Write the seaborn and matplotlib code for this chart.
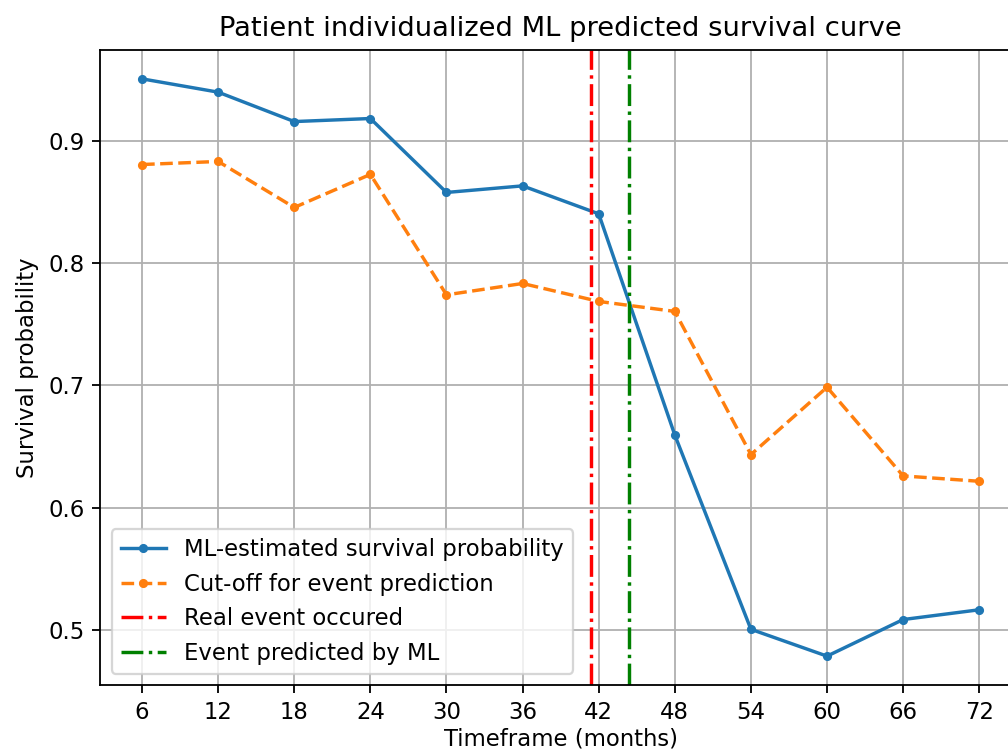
import pandas as pd
import matplotlib
matplotlib.use("Agg")
import matplotlib.pyplot as plt
import seaborn as sns


DPI = 164

# Months at which survival is evaluated
months = [6, 12, 18, 24, 30, 36, 42, 48, 54, 60, 66, 72]

# ML-estimated survival probability
surv_prob = [0.9513, 0.9404, 0.9163, 0.9188, 0.8582, 0.8636,
             0.8407, 0.6594, 0.5002, 0.4782, 0.5082, 0.5162]

# Cut-off for event prediction
cutoff = [0.8811, 0.8836, 0.8459, 0.8730, 0.7743, 0.7836,
          0.7689, 0.7607, 0.6434, 0.6986, 0.6259, 0.6215]

real_event_month = 41.4
predicted_event_month = 44.4

labels = ["ML-estimated survival probability", "Cut-off for event prediction",
          "Real event occured", "Event predicted by ML"]


def main() -> None:
    df = pd.DataFrame({"month": months, "surv": surv_prob, "cutoff": cutoff})

    fig, ax = plt.subplots(figsize=(1008 / DPI, 754 / DPI), dpi=DPI)
    # the original picture is cropped on the right, so the axes run past the edge
    fig.subplots_adjust(left=0.0994, right=1.013, top=0.9337, bottom=0.0915)

    sns.lineplot(data=df, x="month", y="surv", ax=ax, color="tab:blue",
                 marker=".", markeredgecolor="tab:blue", markeredgewidth=1.0,
                 label=labels[0])
    sns.lineplot(data=df, x="month", y="cutoff", ax=ax, color="tab:orange",
                 linestyle="--", marker=".", markeredgecolor="tab:orange",
                 markeredgewidth=1.0, label=labels[1])
    ax.axvline(real_event_month, color="red", linestyle="-.", label=labels[2])
    ax.axvline(predicted_event_month, color="green", linestyle="-.", label=labels[3])

    ax.set_xticks(months)
    ax.grid(True)
    ax.set_xlabel("Timeframe (months)", labelpad=1.5)
    ax.set_ylabel("Survival probability")
    ax.set_title("Patient individualized ML predicted survival curve")
    ax.legend(loc="lower left")

    fig.savefig("out.png", dpi=DPI)


if __name__ == "__main__":
    main()
